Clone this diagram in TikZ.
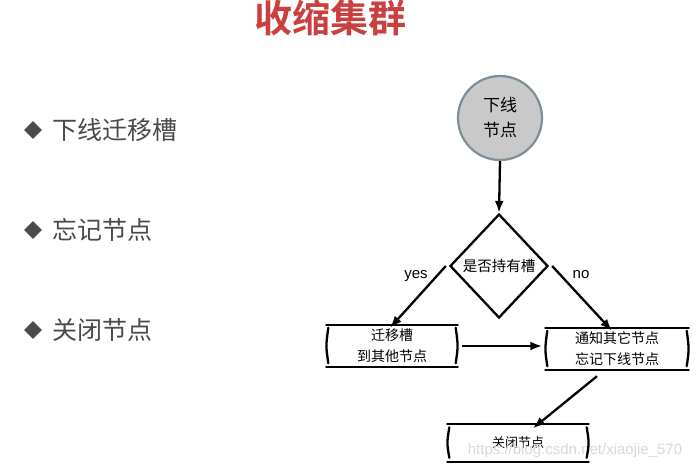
\documentclass[tikz,border=0pt]{standalone}
\usepackage{fontspec}
\setmainfont{Liberation Sans}
\newfontfamily\cjk{Noto Sans CJK SC}
\newfontfamily\cjkb{Noto Sans CJK SC Bold}
\usetikzlibrary{shapes.geometric,arrows.meta}
\definecolor{titlered}{HTML}{C9403F}
\definecolor{bulletgray}{HTML}{4A4A4A}
\definecolor{circfill}{HTML}{C9C9C9}
\definecolor{circline}{HTML}{7F8F98}
\begin{document}
\begin{tikzpicture}[x=1pt,y=-1pt,
  flowbox/.style={minimum width=#1,minimum height=42pt,font=\cjk\fontsize{14}{21}\selectfont,align=center,inner sep=0pt},
  boxline/.style={line width=2.3pt,line cap=round},
  flowarrow/.style={-{Latex[length=12pt,width=9pt]},line width=2.3pt},
  edgelabel/.style={font=\fontsize{15}{15}\selectfont,inner sep=0pt},
  bullettext/.style={font=\cjk\fontsize{25}{28}\selectfont,text=bulletgray,anchor=west,inner sep=0pt},
  bulletmark/.style={diamond,fill=bulletgray,minimum width=18pt,minimum height=18pt,inner sep=0pt}]
\useasboundingbox (0,0) rectangle (698,468);
\fill[white] (0,0) rectangle (698,468);
% title
\node[font=\cjkb\fontsize{38}{40}\selectfont,text=titlered,inner sep=0pt] (title) at (330,18) {收缩集群};
% bullets
\node[bulletmark] (b1) at (33,130) {};
\node[bullettext] (t1) at (52,130) {下线迁移槽};
\node[bulletmark] (b2) at (33,230) {};
\node[bullettext] (t2) at (52,230) {忘记节点};
\node[bulletmark] (b3) at (33,330) {};
\node[bullettext] (t3) at (52,330) {关闭节点};
% flow
\node[circle,draw=circline,fill=circfill,line width=2.2pt,minimum size=84pt,inner sep=0pt,align=center,font=\cjk\fontsize{17}{25}\selectfont] (off) at (500,118) {下线\\节点};
\node[diamond,draw=black,line width=2.3pt,minimum width=98pt,minimum height=104pt,inner sep=0pt,font=\cjk\fontsize{14.5}{16}\selectfont] (q) at (499,266) {是否持有槽};
\node[flowbox=129pt] (mig) at (392,346) {迁移槽\\到其他节点};
\node[flowbox=141pt] (notify) at (617,349) {通知其它节点\\忘记下线节点};
\node[flowbox=139pt,minimum height=37pt,font=\cjk\fontsize{13}{15}\selectfont] (close) at (518,443) {关闭节点};
\node[font=\fontsize{15}{15}\selectfont,text=gray!30,inner sep=0pt] (wm) at (575,451) {https://blog.csdn.net/xiaojie\_570};
\node[edgelabel] (yes) at (416,276) {yes};
\node[edgelabel] (no) at (581,275) {no};
% sketchy box outlines
\foreach \b in {mig,notify,close}{
  \draw[boxline] ([xshift=-1pt]\b.north west) -- ([xshift=1pt]\b.north east);
  \draw[boxline] ([xshift=-1pt]\b.south west) -- ([xshift=1pt]\b.south east);
  \draw[boxline] ([xshift=1pt,yshift=-3pt]\b.north west) .. controls ([xshift=-1.5pt]\b.west) .. ([xshift=1pt,yshift=4pt]\b.south west);
  \draw[boxline] ([xshift=-1pt,yshift=-3pt]\b.north east) .. controls ([xshift=1.5pt]\b.east) .. ([xshift=-1pt,yshift=4pt]\b.south east);
}
\draw[flowarrow] (off.south) -- (q.north);
\draw[flowarrow] ([xshift=-3pt]q.west) -- ([xshift=-2pt,yshift=-3pt]mig.north);
\draw[flowarrow] ([xshift=3pt]q.east) -- ([xshift=-5pt,yshift=-3pt]notify.north);
\draw[flowarrow] ([xshift=5pt]mig.east) -- ([xshift=-4pt]mig.east -| notify.west);
\draw[flowarrow] ([xshift=-20pt,yshift=-6pt]notify.south) -- ([xshift=15pt,yshift=-4pt]close.north);
\end{tikzpicture}
\end{document}
